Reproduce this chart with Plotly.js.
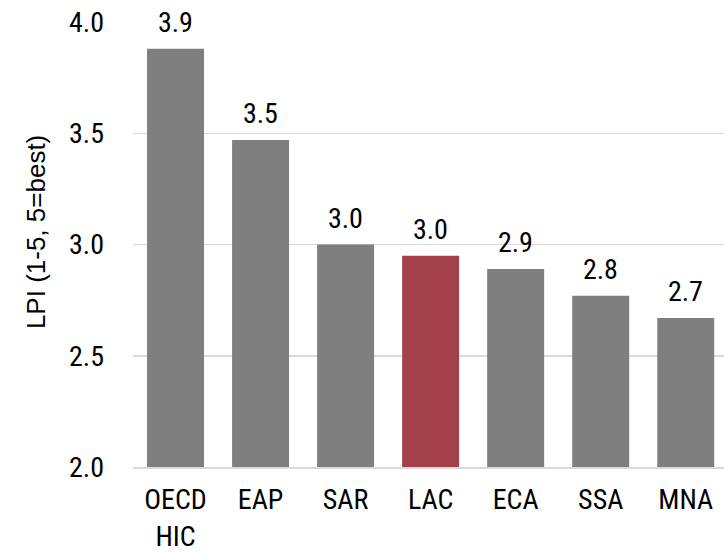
<!DOCTYPE html>
<html>
<head>
<meta charset="utf-8">
<script src="https://cdn.plot.ly/plotly-3.0.1.min.js"></script>
<style>
html,body{margin:0;padding:0;background:#fff;}
#chart{width:724px;height:556px;}
#chart svg text[style*="Roboto"]{font-stretch:82% !important;}
</style>
</head>
<body>
<div id="chart"></div>
<script>
const categories = ["OECD<br>HIC", "EAP", "SAR", "LAC", "ECA", "SSA", "MNA"];
const lpiValues = [3.88, 3.47, 3.0, 2.95, 2.89, 2.77, 2.67];
const barColors = ["#7f7f7f", "#7f7f7f", "#7f7f7f", "#a4404a", "#7f7f7f", "#7f7f7f", "#7f7f7f"];
const yTickVals = [2.0, 2.5, 3.0, 3.5, 4.0];
const yTickText = ["2.0", "2.5", "3.0", "3.5", "4.0"];
const yTitle = "LPI (1-5, 5=best)";

const FONT = "Roboto, 'Liberation Sans Narrow', sans-serif";
const TITLE_FONT = "'Liberation Sans', Arial, sans-serif";
const FS = 28;

const trace = {
  type: "bar",
  x: categories,
  y: lpiValues,
  marker: {color: barColors},
  hoverinfo: "skip"
};

const labelAnnotations = categories.map((c, i) => ({
  x: c, y: lpiValues[i], xref: "x", yref: "y",
  text: lpiValues[i].toFixed(1),
  showarrow: false, yanchor: "bottom", yshift: 8,
  font: {family: FONT, size: FS, color: "#000"}
}));

labelAnnotations.push({
  xref: "paper", yref: "paper",
  x: -0.164, y: 0.528,
  xanchor: "center", yanchor: "middle",
  textangle: -90,
  text: yTitle,
  showarrow: false,
  font: {family: TITLE_FONT, size: 26, color: "#000"}
});

const layout = {
  width: 724, height: 556,
  margin: {l: 133, r: 0, t: 22, b: 89},
  paper_bgcolor: "#fff",
  plot_bgcolor: "#fff",
  bargap: 0.33,
  showlegend: false,
  font: {family: FONT, size: FS, color: "#000"},
  annotations: labelAnnotations,
  xaxis: {
    type: "category",
    range: [-0.5, 6.45],
    showgrid: false,
    showline: true,
    linecolor: "#d9d9d9",
    linewidth: 1.5,
    ticks: "",
    tickfont: {family: FONT, size: FS, color: "#000"},
    ticklabelstandoff: 7
  },
  yaxis: {
    range: [2, 4],
    tickvals: yTickVals,
    ticktext: yTickText,
    showgrid: true,
    gridcolor: "#d9d9d9",
    gridwidth: 1.5,
    zeroline: false,
    showline: false,
    ticks: "",
    ticklabelstandoff: 28,
    tickfont: {family: FONT, size: FS, color: "#000"}
  }
};

Plotly.newPlot("chart", [trace], layout, {displayModeBar: false, staticPlot: true});
</script>
</body>
</html>
